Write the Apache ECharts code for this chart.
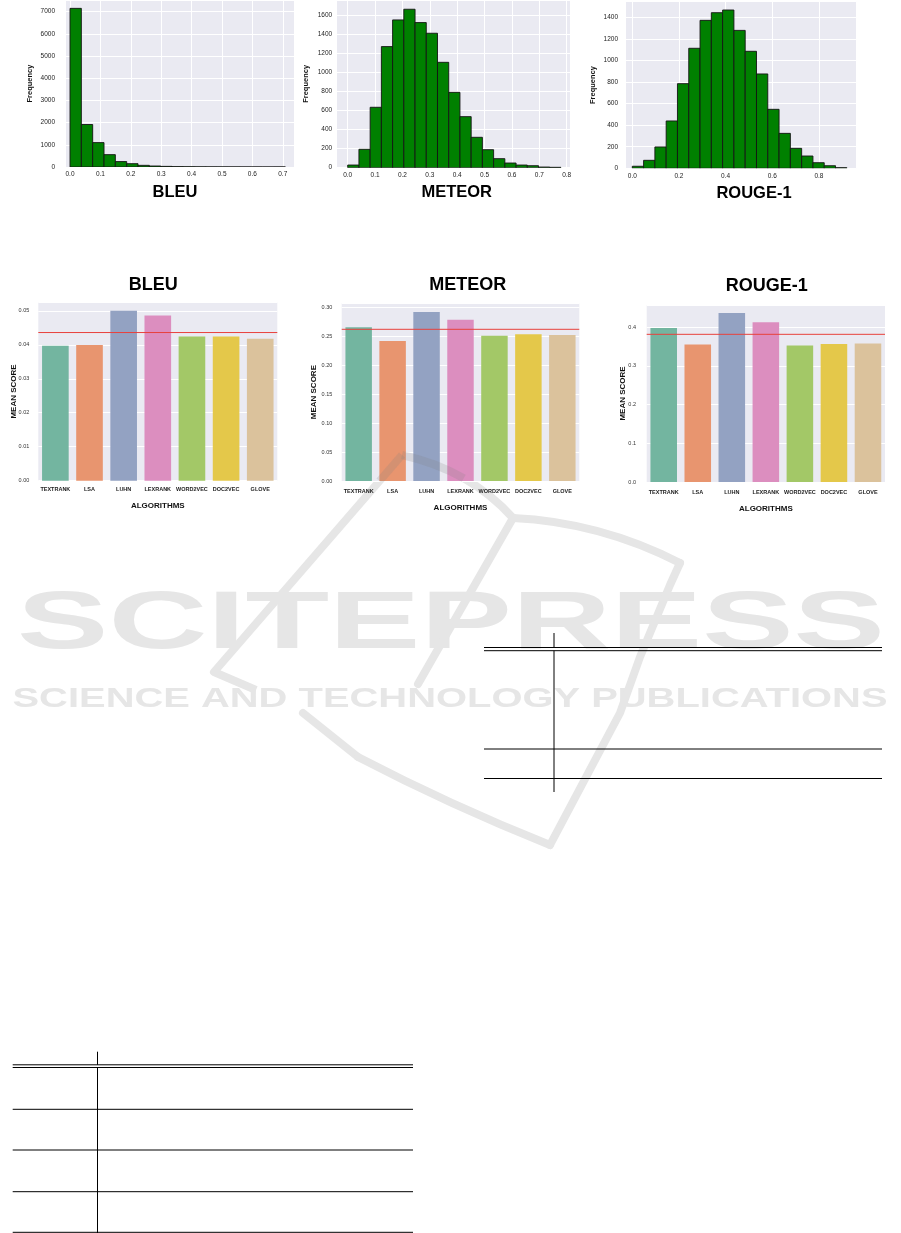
<!DOCTYPE html>
<html><head><meta charset="utf-8">
<script src="https://cdn.jsdelivr.net/npm/echarts@6/dist/echarts.min.js"></script>
<style>html,body{margin:0;padding:0;background:#fff}#c{width:901px;height:1233px}</style>
</head><body><div id="c"></div><script>
// ---------- DATA ----------
const algorithms = ['TEXTRANK', 'LSA', 'LUHN', 'LEXRANK', 'WORD2VEC', 'DOC2VEC', 'GLOVE'];
const bleuScores = [0.0397, 0.0399, 0.0500, 0.0486, 0.0424, 0.0424, 0.0418];
const meteorScores = [0.2655, 0.2418, 0.2920, 0.2787, 0.2510, 0.2534, 0.2522];
const rougeScores = [0.3983, 0.3552, 0.4370, 0.4130, 0.3526, 0.3569, 0.3578];
const bleuMean = 0.0436;
const meteorMean = 0.2620;
const rougeMean = 0.3818;

const bleuBinStart = 0, bleuBinWidth = 0.0373;
const bleuCounts = [7150, 1915, 1100, 557, 245, 150, 75, 45, 28, 15, 10, 6, 4, 3, 2, 1, 1, 0, 1];
const meteorBinStart = 0, meteorBinWidth = 0.041;
const meteorCounts = [28, 193, 634, 1271, 1551, 1663, 1523, 1411, 1106, 791, 536, 319, 189, 95, 49, 28, 21, 7, 4];
const rougeBinStart = 0, rougeBinWidth = 0.0484;
const rougeCounts = [19, 74, 198, 439, 785, 1113, 1372, 1443, 1468, 1279, 1085, 875, 547, 324, 185, 114, 52, 24, 6];

const histTitles = ['BLEU', 'METEOR', 'ROUGE-1'];
const barTitles = ['BLEU', 'METEOR', 'ROUGE-1'];
const watermarkTitle = 'SCITEPRESS';
const watermarkSubtitle = 'SCIENCE AND TECHNOLOGY PUBLICATIONS';

// ---------- STYLE ----------
const FAM = '"Liberation Sans", Arial, sans-serif';
const BG = '#eaeaf2';
const barColors = ['#73b5a0', '#e8956f', '#93a2c2', '#dc8ebf', '#a3c867', '#e4c84a', '#dbc29c'];
const RED = '#e8413c';
const WM = '#e6e6e6';
const WM_OVER = 'rgba(128,128,128,0.2)';

function bins(start, width, counts) {
  return counts.map((c, i) => [start + i * width, start + (i + 1) * width, c]);
}

function renderHist(params, api) {
  const p0 = api.coord([api.value(0), api.value(2)]);
  const p1 = api.coord([api.value(1), 0]);
  return {
    type: 'rect',
    shape: { x: p0[0], y: p0[1], width: p1[0] - p0[0], height: p1[1] - p0[1] },
    style: { fill: '#008000', stroke: '#141414', lineWidth: 0.9 }
  };
}

function gridBox(left, top, right, bottom) {
  return { left: left, top: top, width: right - left, height: bottom - top,
    show: true, backgroundColor: BG, borderWidth: 0, containLabel: false };
}

function histX(gi, min, max, step) {
  return { type: 'value', gridIndex: gi, min: min, max: max, minInterval: step, maxInterval: step,
    axisLine: { show: false }, axisTick: { show: false },
    splitLine: { show: true, lineStyle: { color: '#ffffff', width: 1 } },
    axisLabel: { fontSize: 6.5, color: '#222', margin: 4, showMinLabel: false, showMaxLabel: false,
      fontFamily: FAM, formatter: v => v.toFixed(1) } };
}
function histY(gi, max, step, margin, gap) {
  return { type: 'value', gridIndex: gi, min: 0, max: max, minInterval: step, maxInterval: step,
    axisLine: { show: false }, axisTick: { show: false },
    splitLine: { show: true, lineStyle: { color: '#ffffff', width: 1 } },
    axisLabel: { fontSize: 6.5, color: '#222', margin: margin, showMaxLabel: false, fontFamily: FAM,
      formatter: v => String(Math.round(v)) },
    name: 'Frequency', nameLocation: 'middle', nameGap: gap, nameMoveOverlap: false,
    nameTextStyle: { fontSize: 7.5, fontWeight: 'bold', color: '#111', fontFamily: FAM } };
}
function barX(gi, margin, gap) {
  return { type: 'category', gridIndex: gi, data: algorithms,
    axisLine: { show: false }, axisTick: { show: false }, splitLine: { show: false },
    axisLabel: { interval: 0, fontSize: 5.5, fontWeight: 'bold', color: '#222', margin: margin, fontFamily: FAM },
    name: 'ALGORITHMS', nameLocation: 'middle', nameGap: gap, nameMoveOverlap: false,
    nameTextStyle: { fontSize: 8, fontWeight: 'bold', color: '#111', fontFamily: FAM } };
}
function meanX(gi) {
  return { type: 'value', gridIndex: gi, min: 0, max: 1, show: false,
    axisLine: { show: false }, axisTick: { show: false }, axisLabel: { show: false }, splitLine: { show: false } };
}
function barY(gi, max, step, digits, margin, gap) {
  return { type: 'value', gridIndex: gi, min: 0, max: max, minInterval: step, maxInterval: step,
    axisLine: { show: false }, axisTick: { show: false },
    splitLine: { show: true, lineStyle: { color: '#ffffff', width: 1 } },
    axisLabel: { fontSize: 5.5, color: '#333', margin: margin, showMaxLabel: false, fontFamily: FAM,
      formatter: v => v.toFixed(digits) },
    name: 'MEAN SCORE', nameLocation: 'middle', nameGap: gap, nameMoveOverlap: false,
    nameTextStyle: { fontSize: 8, fontWeight: 'bold', color: '#111', fontFamily: FAM } };
}
function histSeries(gi, data) {
  return { type: 'custom', xAxisIndex: gi, yAxisIndex: gi, renderItem: renderHist, clip: true,
    encode: { x: [0, 1], y: 2 }, data: data, silent: true };
}
function barSeries(gi, data) {
  return { type: 'bar', xAxisIndex: gi, yAxisIndex: gi, data: data, barWidth: '78%',
    itemStyle: { color: p => barColors[p.dataIndex] }, silent: true };
}
function meanSeries(xi, yi, mean) {
  return { type: 'line', xAxisIndex: xi, yAxisIndex: yi, data: [[0, mean], [1, mean]],
    showSymbol: false, symbol: 'none', silent: true, z: 5,
    lineStyle: { color: RED, width: 1 }, itemStyle: { color: RED } };
}

function textWidth(font, s) {
  const c = document.createElement('canvas').getContext('2d');
  c.font = font; return c.measureText(s).width;
}
function title(text, x, y, size) {
  return { type: 'text', x: x, y: y, z: 100,
    style: { text: text, font: 'bold ' + size + 'px ' + FAM, fill: '#000',
      textAlign: 'center', textVerticalAlign: 'middle', align: 'center', verticalAlign: 'middle' } };
}
function line(x1, y1, x2, y2) {
  return { type: 'line', z: 100, shape: { x1: x1, y1: y1, x2: x2, y2: y2 },
    style: { stroke: '#000', lineWidth: 1 } };
}
function wmText(text, cx, cy, size, targetW) {
  const font = 'bold ' + size + 'px ' + FAM;
  const s = targetW / textWidth(font, text);
  return { type: 'text', x: cx, y: cy, z: -10, scaleX: s,
    style: { text: text, font: font, fill: WM,
      textAlign: 'center', textVerticalAlign: 'middle', align: 'center', verticalAlign: 'middle' } };
}
function wmStyle(color, cap) {
  return { stroke: color, lineWidth: 8, fill: null, lineCap: cap, lineJoin: 'round' };
}
function wmPoly(points, over, cap) {
  return { type: 'polyline', z: over ? 60 : -10, shape: { points: points },
    style: wmStyle(over ? WM_OVER : WM, cap || 'round') };
}
function wmCurve(x1, y1, cx, cy, x2, y2, over, cap) {
  return { type: 'bezierCurve', z: over ? 60 : -10,
    shape: { x1: x1, y1: y1, cpx1: cx, cpy1: cy, x2: x2, y2: y2 },
    style: wmStyle(over ? WM_OVER : WM, cap || 'round') };
}

const chart = echarts.init(document.getElementById('c'), null, { renderer: 'canvas' });
chart.setOption({
  animation: false,
  backgroundColor: '#ffffff',
  textStyle: { fontFamily: FAM },
  grid: [
    gridBox(65, 0, 294, 167),
    gridBox(336.7, 0, 570, 167.7),
    gridBox(625, 1.7, 856.7, 168.3),
    gridBox(38.3, 302.3, 277.3, 480.7),
    gridBox(341.7, 303.3, 579.3, 481),
    gridBox(646.7, 305, 885, 482)
  ],
  xAxis: [
    histX(0, -0.0165, 0.737, 0.1),
    histX(1, -0.0402, 0.812, 0.1),
    histX(2, -0.0313, 0.962, 0.2),
    barX(3, 6, 21),
    barX(4, 7.5, 22.7),
    barX(5, 7, 22.3),
    meanX(3), meanX(4), meanX(5)
  ],
  yAxis: [
    histY(0, 7527, 1000, 10, 31),
    histY(1, 1760, 200, 4.5, 26.5),
    histY(2, 1545, 200, 7, 28),
    barY(3, 0.0525, 0.01, 2, 9, 21),
    barY(4, 0.3069, 0.05, 2, 9.4, 23.7),
    barY(5, 0.4576, 0.1, 1, 10.7, 20)
  ],
  series: [
    histSeries(0, bins(bleuBinStart, bleuBinWidth, bleuCounts)),
    histSeries(1, bins(meteorBinStart, meteorBinWidth, meteorCounts)),
    histSeries(2, bins(rougeBinStart, rougeBinWidth, rougeCounts)),
    barSeries(3, bleuScores),
    barSeries(4, meteorScores),
    barSeries(5, rougeScores),
    meanSeries(6, 3, bleuMean),
    meanSeries(7, 4, meteorMean),
    meanSeries(8, 5, rougeMean)
  ],
  graphic: { elements: [
    // watermark (parts over the METEOR chart are translucent, the rest sits behind)
    wmText(watermarkTitle, 451, 626, 81, 868),
    wmText(watermarkSubtitle, 450, 699, 28, 875),
    wmPoly([[402, 455], [379.5, 481]], true, 'butt'),
    wmCurve(402, 455, 436, 462.5, 463.75, 478.25, true, 'butt'),
    wmPoly([[379.5, 481], [214, 672], [256, 690]], false, 'butt'),
    wmCurve(463.75, 478.25, 491.5, 494, 513, 518, false, 'butt'),
    wmCurve(513, 518, 600, 522, 680, 563),
    wmPoly([[680, 563], [670, 585], [640, 657], [620, 713], [550, 845]]),
    wmPoly([[513, 518], [418, 684]]),
    wmPoly([[303, 713], [358, 757]]),
    wmCurve(358, 757, 450, 805, 550, 845),
    // titles
    title(histTitles[0], 175, 192.7, 16.5),
    title(histTitles[1], 456.7, 192.7, 16.5),
    title(histTitles[2], 754, 193, 16.5),
    title(barTitles[0], 153.3, 285, 18),
    title(barTitles[1], 467.7, 285, 18),
    title(barTitles[2], 766.7, 286, 18),
    // right table rules
    line(554, 633, 554, 647.5), line(554, 650.7, 554, 792),
    line(484, 647.5, 882, 647.5), line(484, 650.7, 882, 650.7),
    line(484, 749, 882, 749), line(484, 778.5, 882, 778.5),
    // left table rules
    line(97.5, 1051.7, 97.5, 1064.8), line(97.5, 1067.5, 97.5, 1233),
    line(12.7, 1064.8, 413, 1064.8), line(12.7, 1067.5, 413, 1067.5),
    line(12.7, 1109.3, 413, 1109.3), line(12.7, 1150, 413, 1150),
    line(12.7, 1191.7, 413, 1191.7), line(12.7, 1232.3, 413, 1232.3)
  ] }
});
</script></body></html>
